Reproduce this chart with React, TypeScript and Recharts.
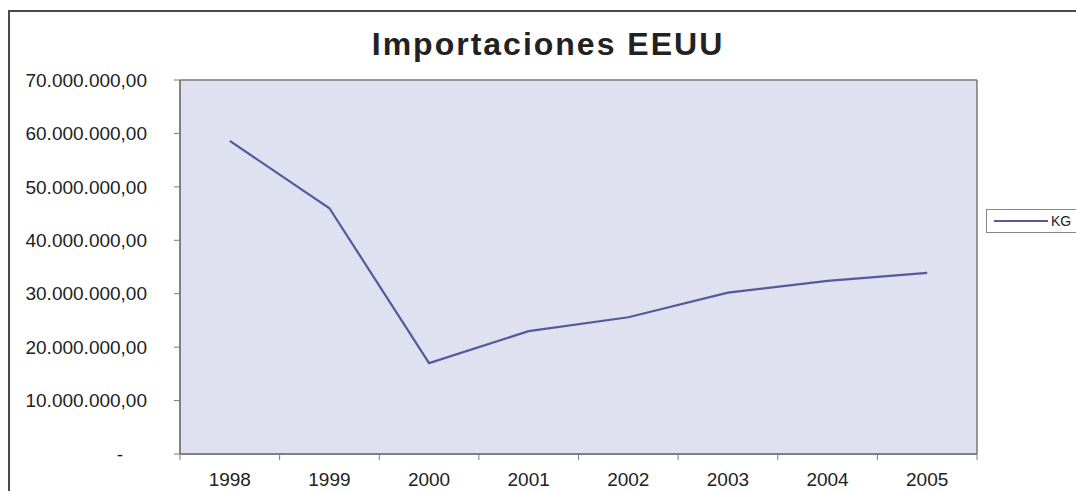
import React from 'react'
import { LineChart, Line, XAxis, YAxis, CartesianGrid, Legend } from 'recharts'

// Importaciones EEUU, kg por año
const years = ['1998', '1999', '2000', '2001', '2002', '2003', '2004', '2005']
const kg = [58600000, 46000000, 17000000, 23000000, 25600000, 30200000, 32400000, 33900000]
const yTicks = [0, 10000000, 20000000, 30000000, 40000000, 50000000, 60000000, 70000000]

const data = years.map((year, i) => ({ year, KG: kg[i] }))

const FONT = '"Liberation Sans", Arial, sans-serif'
const AXIS = '#7a7a7a'
const LINE = '#58599c'
const TICK = 6
const GAP = 13

const fmt = (v: number) =>
  v === 0 ? '-' : Math.round(v).toString().replace(/\B(?=(\d{3})+(?!\d))/g, '.') + ',00'

function YTick({ x, y, payload }: any) {
  const zero = payload.value === 0
  return (
    <text x={zero ? x - 24 : x} y={y} dy="0.355em" textAnchor="end"
      fontFamily={FONT} fontSize={19} fill="#222">
      {fmt(payload.value)}
    </text>
  )
}

// excel style: tick marks sit between categories, labels in the middle
function XTick({ x, y, payload, index, visibleTicksCount }: any) {
  const half = payload.offset || 0
  const axisY = y - TICK - GAP
  const last = index === visibleTicksCount - 1
  return (
    <g>
      <line x1={x - half} x2={x - half} y1={axisY} y2={axisY + TICK} stroke={AXIS} />
      {last && <line x1={x + half} x2={x + half} y1={axisY} y2={axisY + TICK} stroke={AXIS} />}
      <text x={x} y={y} dy="0.71em" textAnchor="middle" fontFamily={FONT} fontSize={19} fill="#222">
        {payload.value}
      </text>
    </g>
  )
}

function KgLegend() {
  return (
    <div style={{
      border: '1px solid #888', background: '#fff', height: 22, width: 110,
      display: 'flex', alignItems: 'center', fontFamily: FONT, fontSize: 14, color: '#222',
    }}>
      <span style={{ display: 'inline-block', width: 54, height: 2, background: LINE, marginLeft: 7, marginRight: 3 }} />
      KG
    </div>
  )
}

export default function App() {
  return (
    <div style={{ position: 'fixed', left: 0, top: 0, width: 1076, height: 491, overflow: 'hidden', background: '#fff' }}>
      <div style={{
        position: 'absolute', left: 8, top: 10, width: 1100, height: 500,
        borderLeft: '2px solid #4a4a4a', borderTop: '2px solid #4a4a4a',
      }} />
      <div style={{
        position: 'absolute', left: 0, top: 28, width: 1096, textAlign: 'center',
        fontFamily: FONT, fontWeight: 'bold', fontSize: 32, lineHeight: '32px',
        letterSpacing: 2, color: '#222',
      }}>
        Importaciones EEUU
      </div>
      <div style={{ position: 'absolute', left: 0, top: 0 }}>
        <LineChart width={1076} height={491} data={data}
          margin={{ top: 80, right: 99, left: 0, bottom: 0 }}>
          <CartesianGrid fill="#dfe0f0" stroke={AXIS} strokeWidth={1.5}
            horizontalCoordinatesGenerator={({ offset }: any) => [offset.top, offset.top + offset.height]}
            verticalCoordinatesGenerator={({ offset }: any) => [offset.left, offset.left + offset.width]} />
          <XAxis dataKey="year" scale="band" height={37} tickLine={false}
            axisLine={{ stroke: AXIS, strokeWidth: 1.5 }}
            tickSize={TICK} tickMargin={GAP} tick={<XTick />} />
          <YAxis domain={[0, 70000000]} ticks={yTicks} width={180}
            tickSize={TICK} tickMargin={27} tick={<YTick />}
            tickLine={{ stroke: AXIS }} axisLine={{ stroke: AXIS, strokeWidth: 1.5 }} />
          <Legend layout="vertical" align="center" verticalAlign="middle"
            content={<KgLegend />}
            wrapperStyle={{ position: 'absolute', left: 986, top: 209, width: 'auto' }} />
          <Line type="linear" dataKey="KG" name="KG"
            stroke={LINE} strokeWidth={2.2} dot={false} isAnimationActive={false} />
        </LineChart>
      </div>
    </div>
  )
}
